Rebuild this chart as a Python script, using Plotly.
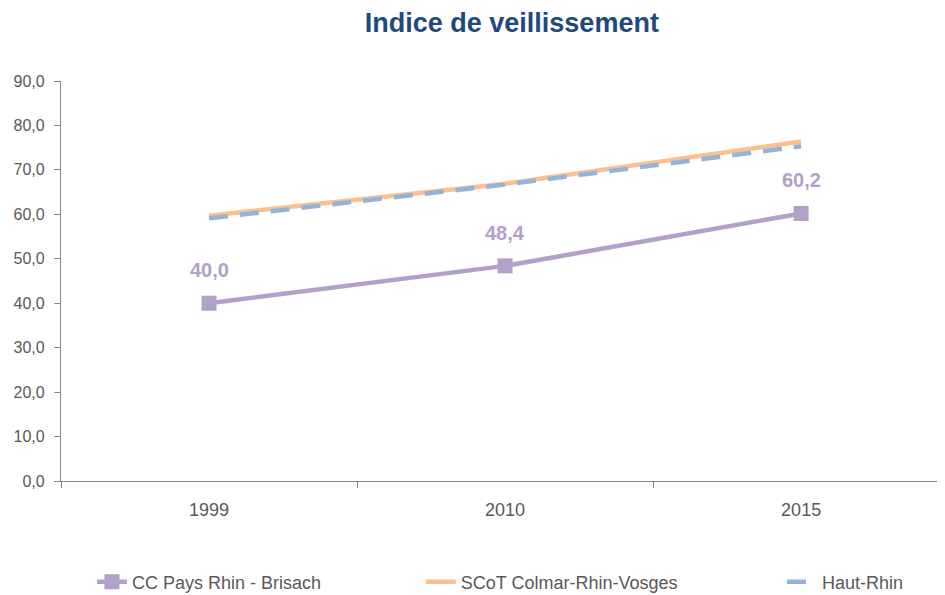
import plotly.graph_objects as go

years = ["1999", "2010", "2015"]
cc_pays = [40.0, 48.4, 60.2]
scot = [59.7, 66.9, 76.4]
haut_rhin = [59.1, 66.7, 75.3]
y_ticks = [0, 10, 20, 30, 40, 50, 60, 70, 80, 90]

PURPLE = "#B1A0C7"
ORANGE = "#FAC090"
BLUE = "#95B3D7"
GREY = "#595959"
FONT = "Liberation Sans, Arial, sans-serif"

fig = go.Figure()
fig.add_trace(go.Scatter(
    x=years, y=cc_pays, name="CC Pays Rhin - Brisach", mode="lines+markers",
    line=dict(color=PURPLE, width=4.5), marker=dict(symbol="square", size=15, color=PURPLE),
    legend="legend"))
fig.add_trace(go.Scatter(
    x=years, y=scot, name="SCoT Colmar-Rhin-Vosges", mode="lines",
    line=dict(color=ORANGE, width=4.5), legend="legend2"))
fig.add_trace(go.Scatter(
    x=years, y=haut_rhin, name="Haut-Rhin", mode="lines",
    line=dict(color=BLUE, width=4.5, dash="19px,12px"), legend="legend3"))

for i, yv in enumerate(cc_pays):
    fig.add_annotation(x=i, y=yv, xref="x", yref="y", text=f"<b>{yv:.1f}</b>".replace(".", ","),
                       showarrow=False, yshift=33,
                       font=dict(family="Liberation Sans, Arial", size=20, color=PURPLE))

legend_common = dict(orientation="h", yanchor="middle", xanchor="left", y=-0.2525,
                     font=dict(family=FONT, size=18, color=GREY), bgcolor="rgba(0,0,0,0)")
fig.update_layout(
    width=937, height=587,
    margin=dict(l=53, r=0, t=73, b=114, autoexpand=False),
    paper_bgcolor="white", plot_bgcolor="white",
    separators=", ",
    title=dict(text="<b>Indice de veillissement</b>", x=0.51, xref="paper", xanchor="center",
               y=0.975, yanchor="middle",
               font=dict(family="Liberation Sans, Arial", size=27, color="#1F497D")),
    xaxis=dict(type="category", range=[-0.5, 2.486], showgrid=False, showline=True,
               linecolor="#868686", linewidth=1.3, ticks="outside", tickson="boundaries",
               ticklen=6, tickcolor="#868686", ticklabelstandoff=12,
               tickfont=dict(family=FONT, size=18, color=GREY)),
    yaxis=dict(range=[0, 90], tickvals=y_ticks, tickformat=".1f", showgrid=False,
               showline=True, linecolor="#868686", linewidth=1.3, ticks="outside",
               ticklen=6, tickcolor="#868686", zeroline=False, ticklabelstandoff=6,
               tickfont=dict(family=FONT, size=16, color=GREY)),
    showlegend=True,
    legend=dict(legend_common, x=0.035),
    legend2=dict(legend_common, x=0.407),
    legend3=dict(legend_common, x=0.8156),
)

fig.write_html("out.html")
